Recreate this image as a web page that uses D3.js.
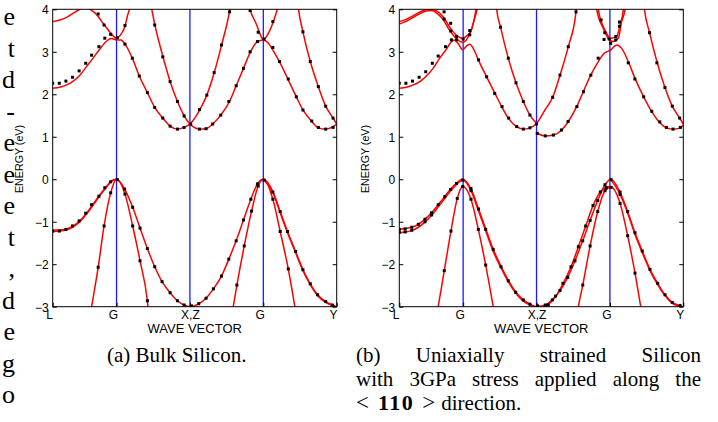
<!DOCTYPE html>
<html>
<head>
<meta charset="utf-8">
<script src="https://cdnjs.cloudflare.com/ajax/libs/d3/7.8.5/d3.min.js"></script>
<style>
  body { margin: 0; background: #fff; }
  svg text { fill: #000; }
</style>
</head>
<body>
<div id="viz"></div>
<script>
// path along the Brillouin zone: L - G - X,Z - G - Y
var kTicks = [0, 0.87, 1.87, 2.87, 3.87];
var kLabels = ["L", "G", "X,Z", "G", "Y"];
var eTicks = [-3, -2, -1, 0, 1, 2, 3, 4];

// (a) bulk silicon: red bands, each [k, E]
var bulkBands = [
  [[0,-1.2],[0.1,-1.19],[0.19,-1.17],[0.28,-1.1],[0.37,-0.98],[0.46,-0.8],[0.55,-0.59],[0.64,-0.37],[0.74,-0.16],[0.8,-0.04],[0.87,0],[0.98,-0.23],[1.09,-0.66],[1.19,-1.15],[1.29,-1.63],[1.39,-2.06],[1.49,-2.41],[1.6,-2.67],[1.7,-2.86],[1.79,-2.96],[1.87,-3.0],[1.99,-2.93],[2.09,-2.8],[2.19,-2.58],[2.3,-2.28],[2.4,-1.88],[2.5,-1.45],[2.6,-0.96],[2.7,-0.47],[2.79,-0.11],[2.87,0],[3.0,-0.29],[3.1,-0.76],[3.2,-1.23],[3.31,-1.7],[3.41,-2.13],[3.51,-2.46],[3.61,-2.72],[3.72,-2.88],[3.81,-2.96],[3.87,-3.0]],
  [[0,-1.23],[0.1,-1.22],[0.19,-1.19],[0.28,-1.12],[0.37,-1.0],[0.46,-0.82],[0.55,-0.61],[0.64,-0.39],[0.74,-0.17],[0.8,-0.05],[0.87,0]],
  [[2.87,0],[3.0,-0.31],[3.1,-0.79],[3.2,-1.26],[3.31,-1.73],[3.41,-2.15],[3.51,-2.48],[3.61,-2.74],[3.72,-2.9],[3.81,-2.97],[3.87,-3.01]],
  [[0.51,-3.2],[0.53,-3.0],[0.62,-2.07],[0.7,-1.1],[0.79,-0.32],[0.87,0],[0.985,-0.35],[1.09,-1.1],[1.19,-1.92],[1.29,-2.86],[1.31,-3.2]],
  [[2.44,-3.2],[2.46,-3.0],[2.51,-2.49],[2.61,-1.57],[2.71,-0.75],[2.8,-0.16],[2.87,0],[3.0,-0.47],[3.1,-1.23],[3.21,-2.11],[3.3,-3.0],[3.32,-3.2]],
  [[0,2.14],[0.1,2.165],[0.19,2.22],[0.28,2.31],[0.37,2.45],[0.46,2.65],[0.55,2.85],[0.64,3.06],[0.74,3.26],[0.8,3.31],[0.87,3.28],[0.93,3.28],[0.985,3.18],[1.085,2.85],[1.18,2.43],[1.29,2.04],[1.39,1.69],[1.5,1.44],[1.6,1.25],[1.7,1.18],[1.79,1.22],[1.87,1.3],[2.0,1.62],[2.1,1.98],[2.2,2.5],[2.3,3.15],[2.41,3.95],[2.43,4.15]],
  [[1.33,4.15],[1.35,4.0],[1.39,3.65],[1.5,2.9],[1.6,2.3],[1.7,1.83],[1.79,1.5],[1.87,1.3],[1.95,1.2],[2.02,1.18],[2.09,1.19],[2.18,1.3],[2.29,1.51],[2.41,1.83],[2.5,2.2],[2.6,2.61],[2.69,2.98],[2.79,3.24],[2.87,3.28],[2.94,3.2],[3.0,3.04],[3.09,2.77],[3.21,2.34],[3.32,1.94],[3.41,1.63],[3.53,1.36],[3.62,1.21],[3.72,1.18],[3.82,1.24],[3.87,1.3]],
  [[0,3.71],[0.1,3.75],[0.19,3.81],[0.28,3.91],[0.37,4.0],[0.44,4.06],[0.51,4.0],[0.6,3.87],[0.67,3.71],[0.74,3.55],[0.79,3.44],[0.87,3.32],[0.94,3.44],[0.985,3.6],[1.016,3.83],[1.044,4.0],[1.06,4.15]],
  [[2.67,4.15],[2.69,4.0],[2.78,3.63],[2.82,3.44],[2.87,3.29],[2.96,3.51],[3.03,3.83],[3.06,4.0],[3.08,4.15]],
  [[3.34,4.15],[3.35,4.0],[3.41,3.47],[3.51,2.77],[3.62,2.18],[3.72,1.72],[3.82,1.44],[3.87,1.3]]
];

// (a) black reference points
var bulkDots = [
  [0,-1.22],[0.09,-1.22],[0.18,-1.18],[0.27,-1.1],[0.36,-0.98],[0.45,-0.8],[0.53,-0.6],[0.63,-0.4],[0.71,-0.2],[0.79,-0.06],[0.88,-0.01],
  [0.62,-2.07],[0.7,-1.1],[0.79,-0.32],
  [0.98,-0.23],[1.09,-0.66],[1.19,-1.15],[1.29,-1.63],[1.39,-2.06],[1.49,-2.41],[1.6,-2.67],[1.7,-2.86],[1.79,-2.96],[1.89,-2.98],
  [0.985,-0.35],[1.09,-1.1],[1.19,-1.92],[1.29,-2.86],
  [1.99,-2.93],[2.09,-2.8],[2.19,-2.58],[2.3,-2.28],[2.4,-1.88],[2.5,-1.45],[2.6,-0.96],[2.7,-0.47],[2.79,-0.11],[2.88,-0.02],
  [2.51,-2.49],[2.61,-1.57],[2.71,-0.75],[2.8,-0.16],
  [3.0,-0.3],[3.1,-0.76],[3.2,-1.23],[3.31,-1.7],[3.41,-2.13],[3.51,-2.46],[3.61,-2.72],[3.72,-2.88],[3.81,-2.96],
  [3.0,-0.47],[3.1,-1.23],[3.21,-2.11],
  [0,2.26],[0.09,2.26],[0.18,2.31],[0.27,2.4],[0.36,2.55],[0.45,2.73],[0.53,2.92],[0.63,3.12],[0.71,3.32],[0.79,3.41],[0.88,3.33],
  [0.62,3.89],[0.7,3.63],[0.985,3.62],
  [0.985,3.18],[1.085,2.85],[1.18,2.43],[1.29,2.04],[1.39,1.69],[1.5,1.44],[1.6,1.25],[1.7,1.18],[1.79,1.22],[1.88,1.3],
  [1.39,3.63],[1.5,2.88],[1.6,2.3],[1.7,1.83],[1.79,1.49],
  [2.0,1.18],[2.09,1.19],[2.18,1.3],[2.29,1.51],[2.4,1.83],[2.5,2.2],[2.6,2.61],[2.69,3.0],[2.79,3.24],[2.88,3.3],
  [2.0,1.64],[2.1,1.98],[2.2,2.51],[2.3,3.16],[2.41,3.94],
  [2.69,3.97],[2.8,3.46],[3.0,3.71],
  [3.0,3.1],[3.09,2.77],[3.21,2.36],[3.32,1.94],[3.41,1.63],[3.53,1.37],[3.62,1.22],[3.72,1.18],[3.82,1.22],
  [3.41,3.47],[3.51,2.77],[3.62,2.18],[3.72,1.72],[3.82,1.44]
];

// (b) strained silicon: red bands
var strainBands = [
  [[0,-1.18],[0.08,-1.16],[0.17,-1.13],[0.26,-1.06],[0.35,-0.94],[0.44,-0.79],[0.53,-0.6],[0.62,-0.41],[0.7,-0.23],[0.78,-0.09],[0.865,0],[0.98,-0.24],[1.08,-0.7],[1.18,-1.18],[1.28,-1.65],[1.39,-2.06],[1.49,-2.39],[1.59,-2.66],[1.69,-2.84],[1.78,-2.94],[1.863,-3.0]],
  [[0,-1.26],[0.08,-1.24],[0.17,-1.21],[0.26,-1.13],[0.35,-1.01],[0.44,-0.85],[0.53,-0.65],[0.62,-0.45],[0.7,-0.27],[0.78,-0.12],[0.865,-0.02],[0.98,-0.28],[1.08,-0.75],[1.18,-1.23],[1.28,-1.7],[1.39,-2.1],[1.49,-2.43],[1.59,-2.69],[1.69,-2.87],[1.78,-2.96],[1.863,-3.02]],
  [[1.863,-3.0],[1.99,-2.96],[2.085,-2.84],[2.19,-2.62],[2.295,-2.31],[2.394,-1.92],[2.499,-1.45],[2.6,-0.97],[2.704,-0.5],[2.803,-0.13],[2.885,0],[3.008,-0.31],[3.112,-0.76],[3.212,-1.26],[3.311,-1.69],[3.416,-2.12],[3.521,-2.45],[3.621,-2.72],[3.72,-2.9],[3.825,-2.98],[3.87,-3.0]],
  [[2.885,-0.02],[3.008,-0.35],[3.112,-0.8],[3.212,-1.3],[3.311,-1.73],[3.416,-2.15],[3.521,-2.48],[3.621,-2.74],[3.72,-2.92],[3.825,-2.99],[3.87,-3.01]],
  [[1.92,-3.05],[2.03,-2.95],[2.13,-2.76],[2.23,-2.46],[2.34,-2.06],[2.44,-1.59],[2.54,-1.1],[2.64,-0.62],[2.74,-0.3],[2.82,-0.19],[2.885,-0.17]],
  [[0.51,-3.2],[0.53,-3.0],[0.613,-2.15],[0.704,-1.22],[0.79,-0.45],[0.865,-0.17],[0.977,-0.47],[1.077,-1.18],[1.177,-2.02],[1.28,-3.0],[1.3,-3.2]],
  [[2.42,-3.2],[2.44,-3.0],[2.5,-2.49],[2.6,-1.57],[2.704,-0.76],[2.803,-0.27],[2.885,-0.18],[3.008,-0.565],[3.112,-1.33],[3.212,-2.21],[3.29,-3.0],[3.31,-3.2]],
  [[0,2.14],[0.1,2.165],[0.19,2.22],[0.28,2.3],[0.37,2.43],[0.46,2.61],[0.55,2.85],[0.65,3.08],[0.7,3.22],[0.75,3.28],[0.8,3.2],[0.864,3.05],[0.92,3.14],[0.963,3.18],[1.03,3.0],[1.077,2.81],[1.19,2.41],[1.304,2.02],[1.395,1.71],[1.485,1.44],[1.6,1.24],[1.69,1.18],[1.78,1.21],[1.863,1.3],[1.985,1.63],[2.09,1.93],[2.19,2.45],[2.303,3.12],[2.408,3.94],[2.42,4.15]],
  [[1.32,4.15],[1.327,4.0],[1.38,3.58],[1.485,2.85],[1.59,2.27],[1.69,1.83],[1.78,1.51],[1.863,1.33]],
  [[1.866,1.1],[1.985,1.02],[2.099,1.04],[2.213,1.16],[2.303,1.36],[2.417,1.71],[2.507,2.06],[2.608,2.45],[2.712,2.77],[2.789,2.96],[2.88,3.04],[2.962,3.16],[3.03,3.08],[3.12,2.77],[3.21,2.38],[3.33,1.94],[3.44,1.59],[3.55,1.33],[3.64,1.21],[3.73,1.18],[3.83,1.21],[3.87,1.28]],
  [[0,3.71],[0.1,3.77],[0.19,3.85],[0.28,3.94],[0.37,3.99],[0.44,4.0],[0.52,3.95],[0.6,3.82],[0.68,3.6],[0.76,3.42],[0.864,3.32],[0.92,3.38],[0.963,3.45],[1.01,3.68],[1.045,4.0],[1.06,4.15]],
  [[0,3.65],[0.1,3.72],[0.19,3.81],[0.28,3.9],[0.37,3.96],[0.44,3.97],[0.52,3.9],[0.6,3.75],[0.68,3.52],[0.76,3.34],[0.864,3.22],[0.93,3.32],[0.98,3.5],[1.02,3.75],[1.06,4.0],[1.075,4.15]],
  [[2.7,4.15],[2.712,4.0],[2.803,3.51],[2.88,3.32],[2.962,3.36],[3.008,3.63],[3.053,4.0],[3.06,4.15]],
  [[2.68,4.15],[2.69,4.0],[2.78,3.55],[2.862,3.28],[2.908,3.24],[2.984,3.32],[3.03,3.71],[3.076,4.0],[3.085,4.15]],
  [[3.33,4.15],[3.34,4.0],[3.41,3.45],[3.51,2.77],[3.62,2.16],[3.72,1.72],[3.82,1.44],[3.87,1.3]]
];

// (b) black reference points
var strainDots = [
  [0,-1.18],[0,-1.25],[0.08,-1.17],[0.08,-1.24],[0.17,-1.13],[0.17,-1.2],[0.26,-1.06],[0.35,-0.94],[0.35,-1.0],[0.44,-0.79],[0.44,-0.84],[0.53,-0.6],[0.62,-0.41],[0.7,-0.24],[0.78,-0.1],[0.865,-0.02],
  [0.613,-2.15],[0.704,-1.22],[0.79,-0.45],[0.865,-0.17],
  [0.977,-0.22],[0.977,-0.27],[1.08,-0.7],[1.177,-1.18],[1.28,-1.65],[1.386,-2.06],[1.485,-2.39],[1.586,-2.66],[1.69,-2.84],[1.78,-2.94],[1.886,-2.98],
  [0.977,-0.47],[1.077,-1.18],[1.177,-2.02],
  [1.99,-2.96],[2.085,-2.84],[2.19,-2.62],[2.295,-2.31],[2.394,-1.92],[2.499,-1.45],[2.6,-0.97],[2.704,-0.5],[2.803,-0.13],[2.885,-0.01],
  [2.03,-2.96],[2.13,-2.75],[2.23,-2.45],[2.34,-2.06],[2.44,-1.59],[2.54,-1.1],[2.64,-0.62],[2.74,-0.3],[2.82,-0.2],
  [2.5,-2.49],[2.6,-1.57],[2.704,-0.76],[2.803,-0.27],[2.885,-0.19],
  [3.008,-0.3],[3.008,-0.36],[3.112,-0.76],[3.212,-1.26],[3.311,-1.69],[3.416,-2.12],[3.521,-2.45],[3.621,-2.72],[3.72,-2.9],[3.825,-2.97],
  [3.008,-0.57],[3.112,-1.33],[3.212,-2.21],
  [0,2.26],[0.09,2.26],[0.18,2.31],[0.27,2.4],[0.36,2.53],[0.45,2.73],[0.53,2.9],[0.63,3.12],[0.71,3.28],
  [0.61,3.94],[0.61,3.77],[0.7,3.67],[0.7,3.49],[0.78,3.36],[0.78,3.28],[0.87,3.3],[0.96,3.5],[0.96,3.4],
  [1.08,2.81],[1.19,2.41],[1.3,2.02],[1.4,1.71],[1.49,1.44],[1.6,1.24],[1.69,1.18],[1.78,1.21],[1.87,1.3],
  [1.38,3.58],[1.485,2.85],[1.59,2.27],[1.69,1.83],[1.78,1.51],
  [2.09,1.93],[2.19,2.45],[2.303,3.12],[2.408,3.94],
  [1.88,1.08],[1.99,1.02],[2.1,1.04],[2.21,1.16],[2.3,1.36],[2.42,1.71],[2.51,2.06],[2.61,2.45],[2.71,2.85],[2.79,3.29],
  [2.75,3.75],[2.8,3.45],[2.86,3.3],[2.88,3.2],[2.95,3.36],[2.95,3.28],[3.0,3.7],[3.0,3.6],
  [3.12,2.74],[3.21,2.36],[3.33,1.94],[3.44,1.6],[3.55,1.35],[3.64,1.22],[3.73,1.18],[3.83,1.22],
  [3.41,3.45],[3.51,2.74],[3.62,2.16],[3.72,1.72],[3.82,1.44]
];

var bodyLetters = ["e", "t", "d", "-", "e", "e", "e", "t", ",", "d", "e", "g", "o"];
var captionA = "(a) Bulk Silicon.";
var captionB = [["(b)", "Uniaxially", "strained", "Silicon"],
                ["with", "3GPa", "stress", "applied", "along", "the"]];

var W = 718, H = 422;
var svg = d3.select("#viz").append("svg").attr("width", W).attr("height", H);
svg.append("rect").attr("width", W).attr("height", H).attr("fill", "#fff");

var plotTop = 9.3, plotBottom = 306.7, plotW = 284;

function drawPanel(left, bands, dots, id) {
  var x = d3.scaleLinear().domain([kTicks[0], kTicks[4]]).range([left, left + plotW]);
  var y = d3.scaleLinear().domain([-3, 4]).range([plotBottom, plotTop]);
  var g = svg.append("g");

  g.append("clipPath").attr("id", id)
    .append("rect").attr("x", left).attr("y", plotTop)
    .attr("width", plotW).attr("height", plotBottom - plotTop);

  var inner = g.append("g").attr("clip-path", "url(#" + id + ")");

  inner.selectAll("line.sym").data(kTicks.slice(1, 4)).enter()
    .append("line").attr("class", "sym")
    .attr("x1", d => x(d)).attr("x2", d => x(d))
    .attr("y1", plotTop).attr("y2", plotBottom)
    .attr("stroke", "#1a1aff").attr("stroke-width", 1.3);

  var line = d3.line().x(d => x(d[0])).y(d => y(d[1])).curve(d3.curveMonotoneX);
  inner.selectAll("path.band").data(bands).enter()
    .append("path").attr("class", "band")
    .attr("d", line).attr("fill", "none")
    .attr("stroke", "#ff0000").attr("stroke-width", 1.5);

  inner.selectAll("rect.pt").data(dots).enter()
    .append("rect").attr("class", "pt")
    .attr("x", d => x(d[0]) - 1.5).attr("y", d => y(d[1]) - 1.5)
    .attr("width", 3).attr("height", 3).attr("fill", "#000");

  // axes, matlab style ticks inside the box
  var ax = g.append("g").attr("font-family", "Liberation Sans, Arial, sans-serif");
  var yl = ax.append("g").attr("transform", "translate(" + left + ",0)")
    .call(d3.axisLeft(y).tickValues(eTicks).tickSizeInner(-4).tickSizeOuter(0).tickPadding(4).tickFormat(d3.format("d")));
  ax.append("g").attr("transform", "translate(" + (left + plotW) + ",0)")
    .call(d3.axisRight(y).tickValues(eTicks).tickSizeInner(-4).tickSizeOuter(0).tickFormat(""));
  var xb = ax.append("g").attr("transform", "translate(0," + plotBottom + ")")
    .call(d3.axisBottom(x).tickValues(kTicks).tickSizeInner(-4).tickSizeOuter(0).tickPadding(3)
      .tickFormat((d, i) => kLabels[i]));
  ax.selectAll(".domain").remove();
  ax.selectAll(".tick line").attr("stroke", "#000");
  yl.selectAll("text").attr("font-size", 12).attr("dy", "0.36em");
  xb.selectAll("text").attr("font-size", 12).attr("dy", "0.75em")
    .attr("dx", (d, i) => kLabels[i].length === 1 ? "-0.3em" : 0);

  g.append("rect").attr("x", left).attr("y", plotTop)
    .attr("width", plotW).attr("height", plotBottom - plotTop)
    .attr("fill", "none").attr("stroke", "#000").attr("stroke-width", 1);

  g.append("text").attr("x", left + plotW / 2).attr("y", 333)
    .attr("text-anchor", "middle").attr("font-family", "Liberation Sans, Arial, sans-serif")
    .attr("font-size", 13).text("WAVE VECTOR");

  g.append("text").attr("transform", "translate(" + (left - 30) + "," + 159 + ") rotate(-90)")
    .attr("text-anchor", "middle").attr("font-family", "Liberation Sans, Arial, sans-serif")
    .attr("font-size", 10.7).text("ENERGY (eV)");
}

drawPanel(52.7, bulkBands, bulkDots, "clipA");
drawPanel(399.3, strainBands, strainDots, "clipB");

// cut-off body text at the left edge
var serif = "Liberation Serif, Times New Roman, serif";
svg.append("g").selectAll("text").data(bodyLetters).enter()
  .append("text").attr("x", 15).attr("y", (d, i) => 25 + i * 31.5)
  .attr("text-anchor", "end").attr("font-family", serif).attr("font-size", 26)
  .text(d => d);

// captions
svg.append("text").attr("x", 107).attr("y", 362)
  .attr("font-family", serif).attr("font-size", 21).text(captionA);

var capLeft = 356, capRight = 701;
captionB.forEach(function(words, li) {
  var yy = 362 + li * 24;
  var nodes = words.map(w => svg.append("text").attr("y", yy)
    .attr("font-family", serif).attr("font-size", 21).text(w));
  var widths = nodes.map(n => n.node().getComputedTextLength());
  var gap = (capRight - capLeft - d3.sum(widths)) / (words.length - 1);
  var xx = capLeft;
  nodes.forEach(function(n, i) { n.attr("x", xx); xx += widths[i] + gap; });
});
var last = svg.append("text").attr("x", capLeft).attr("y", 410)
  .attr("font-family", serif).attr("font-size", 21);
last.append("tspan").attr("font-size", 23).text("<");
last.append("tspan").attr("dx", 9).attr("font-weight", "bold").attr("font-size", 22)
  .attr("letter-spacing", 1.5).text("110");
last.append("tspan").attr("dx", 8).attr("font-size", 23).text(">");
last.append("tspan").attr("dx", 6).text("direction.");
</script>
</body>
</html>
